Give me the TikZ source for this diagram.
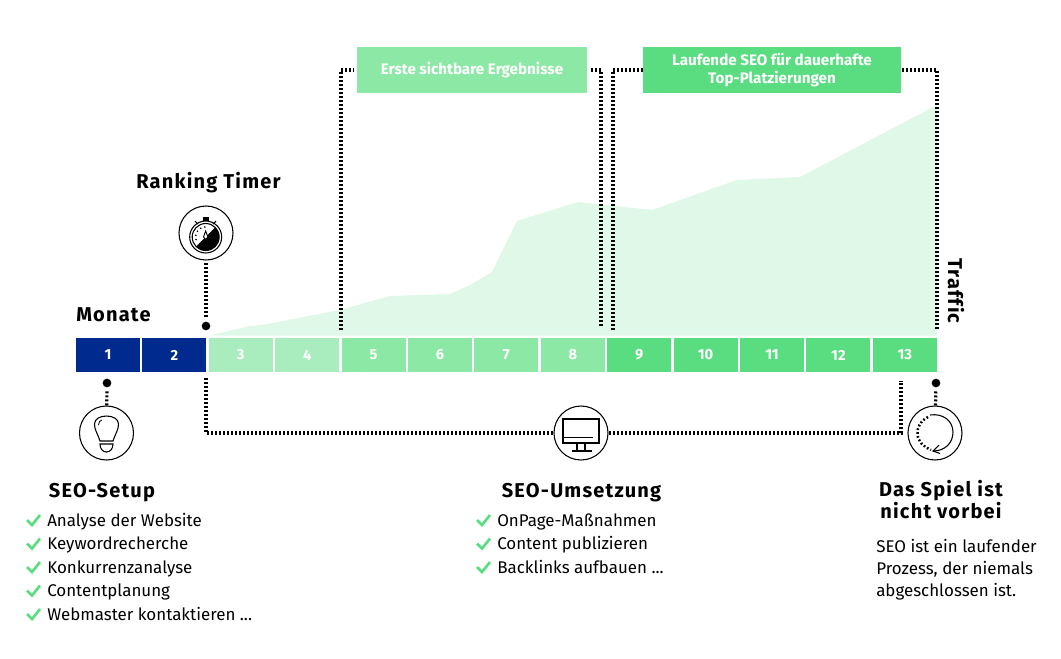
\documentclass[tikz,border=0pt]{standalone}
\usepackage{fontspec}
\usepackage{tikz}
\setmainfont{Fira Sans}
\newfontfamily\headfont[LetterSpace=6,Ligatures=NoCommon]{Fira Sans}
\definecolor{navy}{HTML}{012A8F}
\definecolor{paleg}{HTML}{A9EDBE}
\definecolor{midg}{HTML}{8BE9A5}
\definecolor{deepg}{HTML}{5ADD80}
\definecolor{areag}{HTML}{DFF8E8}
\tikzset{
  cellbox/.style={minimum width=48pt,minimum height=26pt,inner sep=0pt,text=white,font=\fontsize{11}{12}\selectfont\bfseries},
  banner/.style={minimum height=34.5pt,inner sep=0pt,text=white,align=center,font=\fontsize{11.4}{14}\selectfont\bfseries},
  iconring/.style={circle,draw=black,line width=0.8pt,minimum size=40.5pt,inner sep=0pt,fill=white},
  blackdot/.style={circle,fill=black,minimum size=6.5pt,inner sep=0pt},
  dotline/.style={draw=black,line width=2.4pt,dash pattern=on 1.5pt off 1.5pt},
  headline/.style={anchor=base,inner sep=0pt,font=\fontsize{15}{16}\selectfont\headfont\bfseries},
  listitem/.style={anchor=base west,inner sep=0pt,font=\fontsize{12.7}{14}\selectfont},
  tick/.style={draw=deepg,line width=2pt}
}
\newcommand{\chk}[2]{\draw[tick] (#1-10,#2) -- (#1-5,#2+5) -- (#1+3,#2-5);}
\newcommand{\more}{...}
\begin{document}
\begin{tikzpicture}[x=0.75pt,y=-0.75pt]
\useasboundingbox (0,0) rectangle (1061,658);

\fill[areag] (210,335.5) -- (250,326) -- (262,325) -- (340,310) -- (390,296) -- (450,294) -- (470,285)
  -- (492,272) -- (517,221) -- (578,202) -- (652,210) -- (737,180) -- (800,177) -- (937,105) -- (937,335.5) -- cycle;

\foreach \n [evaluate=\n as \xp using 108+(\n-1)*66.4] in {1,2}
  \node[cellbox,fill=navy] (cell\n) at (\xp,355) {\n};
\foreach \n [evaluate=\n as \xp using 108+(\n-1)*66.4] in {3,4}
  \node[cellbox,fill=paleg] (cell\n) at (\xp,355) {\n};
\foreach \n [evaluate=\n as \xp using 108+(\n-1)*66.4] in {5,6,7,8}
  \node[cellbox,fill=midg] (cell\n) at (\xp,355) {\n};
\foreach \n [evaluate=\n as \xp using 108+(\n-1)*66.4] in {9,10,11,12,13}
  \node[cellbox,fill=deepg] (cell\n) at (\xp,355) {\n};

\node[banner,fill=midg,minimum width=172.5pt] (firstres) at (472,70) {Erste sichtbare Ergebnisse};
\node[banner,fill=deepg,minimum width=193.5pt] (ongoing) at (772,70) {Laufende SEO für dauerhafte\\Top-Platzierungen};

\coordinate (firstleft) at (341,330);
\coordinate (firstright) at (601,326);
\coordinate (ongoingleft) at (613,330);
\coordinate (ongoingright) at (937,329);
\draw[dotline,shorten >=2pt] (firstleft) |- (firstres.west);
\draw[dotline,shorten >=2pt] (firstright) |- (firstres.east);
\draw[dotline] (ongoingleft) |- (ongoing.west);
\draw[dotline] (ongoingright) |- (ongoing.east);

\node[iconring] (timer) at (206,233) {};
\node[iconring] (bulb) at (106.5,433) {};
\node[iconring] (screen) at (581,433) {};
\node[iconring] (loop) at (935,433) {};
\node[blackdot] (timerdot) at (206,326) {};
\node[blackdot] (bulbdot) at (107,383) {};
\node[blackdot] (loopdot) at (936,383) {};
\coordinate (buildstart) at (206,378);
\coordinate (buildend) at (901,381);

\draw[dotline,shorten <=2pt,shorten >=2.5pt] (timer) -- (timerdot);
\draw[dotline,shorten >=2.5pt] (bulb) -- (bulbdot);
\draw[dotline,shorten >=2.5pt] (loop) -- (loopdot);
\draw[dotline] (buildstart) |- (screen);
\draw[dotline] (screen) -| (buildend);

% stopwatch
\draw[line width=0.8pt] (205.7,237) circle (16);
\draw[line width=0.8pt] (205.7,237) circle (13.5);
\fill (215.25,227.45) arc (-45:135:13.5) -- cycle;
\fill[black] (203,217) rectangle (208.5,221);
\draw[line width=0.8pt] (195,221) -- (198,224);
\draw[line width=0.8pt] (216,221) -- (213,224);
\foreach \a in {265,240,215,190,165}
  \fill (205.7,237) ++(\a:10) circle (0.9);
\draw[line width=0.7pt,fill=white] (205.7,231) -- (203.5,237) -- (205.7,239.5) -- (207.9,237) -- cycle;

% bulb
\draw[line width=0.8pt] (100,441) .. controls (97,432) and (94.5,430) .. (94.5,424)
  .. controls (94.5,419) and (100,416) .. (106.5,416)
  .. controls (113,416) and (118.5,419) .. (118.5,424)
  .. controls (118.5,430) and (116,432) .. (113,441) -- cycle;
\draw[line width=0.8pt] (100,444) -- (113,444) .. controls (113,449) and (110,452) .. (106.5,452)
  .. controls (103,452) and (100,449) .. (100,444) -- cycle;
\draw[line width=0.6pt] (98.5,425) .. controls (98.5,422) and (100,420.5) .. (102,420);

% monitor
\draw[line width=0.8pt] (563,419) rectangle (599,443);
\draw[line width=0.8pt] (563,437.5) -- (593,437.5);
\draw[line width=0.8pt] (577,443) -- (577,450) (585,443) -- (585,450);
\draw[line width=0.8pt] (572,451) -- (592,451);

% loop
\draw[line width=0.8pt] (930,415) .. controls (943,413) and (953,421) .. (953,432)
  .. controls (953,443) and (945,451) .. (933,451);
\draw[line width=0.8pt] (939,445) -- (933,451) -- (940,453.5);
\draw[line width=1.9pt,dash pattern=on 1.3pt off 1.6pt] (928,417) .. controls (920,421) and (917,428) .. (917.5,434)
  .. controls (918,442) and (924,447) .. (931,450);

\node[headline] (rankingtitle) at (208.5,188) {Ranking Timer};
\node[headline,anchor=base west] (monthtitle) at (76,321) {Monate};
\node[headline] (setuptitle) at (102,497) {SEO-Setup};
\node[headline] (buildtitle) at (581.5,497) {SEO-Umsetzung};
\node[headline] (gametitle) at (941,496) {Das Spiel ist};
\node[headline] (gametitleb) at (941,518) {nicht vorbei};
\node[inner sep=0pt,font=\fontsize{15}{16}\selectfont\headfont\bfseries,rotate=-90] (traffictitle) at (956,291) {Traffic};

\foreach \t [count=\i] in {Analyse der Website,Keywordrecherche,Konkurrenzanalyse,Contentplanung,Webmaster kontaktieren \more}{
  \node[listitem] (setup\i) at (47,502.5+23.5*\i) {\t};
  \chk{37}{496.5+23.5*\i}
}
\foreach \t [count=\i] in {OnPage-Maßnahmen,Content publizieren,Backlinks aufbauen \more}{
  \node[listitem] (build\i) at (497,502.5+23.5*\i) {\t};
  \chk{487}{496.5+23.5*\i}
}
\node[listitem] (game1) at (876,552) {SEO ist ein laufender};
\node[listitem] (game2) at (876,574) {Prozess, der niemals};
\node[listitem] (game3) at (876,596) {abgeschlossen ist.};
\end{tikzpicture}
\end{document}
